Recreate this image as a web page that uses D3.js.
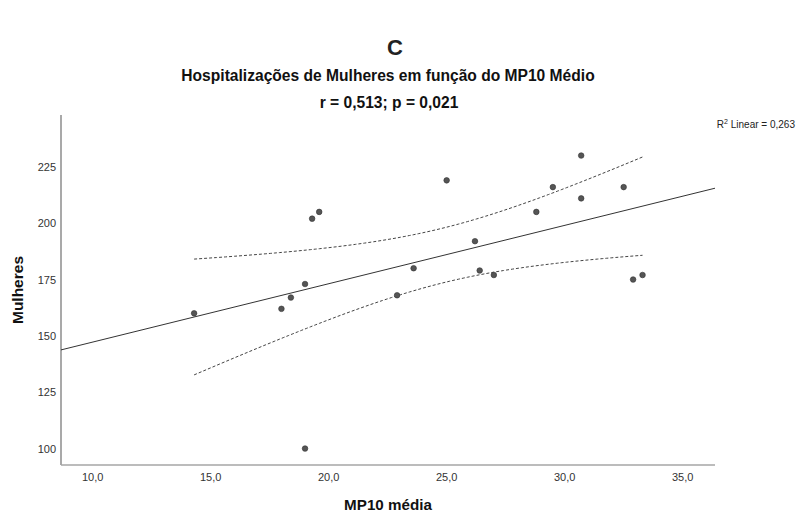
<!DOCTYPE html>
<html>
<head>
<meta charset="utf-8">
<script src="https://cdn.jsdelivr.net/npm/d3@7"></script>
<style>
  html, body { margin: 0; padding: 0; background: #fff; }
  svg { display: block; }
  text { font-family: "Liberation Sans", Arial, sans-serif; }
</style>
</head>
<body>
<script>
// ---- Data ----
const mp10 = [14.3, 18.0, 18.4, 19.0, 19.3, 19.6, 22.9, 25.0, 30.7, 29.5, 32.5, 30.7, 28.8, 26.2, 23.6, 26.4, 27.0, 32.9, 33.3, 19.0];
const mulheres = [160, 162, 167, 173, 202, 205, 168, 219, 230, 216, 216, 211, 205, 192, 180, 179, 177, 175, 177, 100];
const xTicks = [10, 15, 20, 25, 30, 35];
const yTicks = [100, 125, 150, 175, 200, 225];
const panelLabel = "C";
const title = "Hospitalizações de Mulheres em função do MP10 Médio";
const subtitle = "r = 0,513; p = 0,021";
const xTitle = "MP10 média";
const yTitle = "Mulheres";
const r2Label = "0,263";
const tCrit = 2.101; // t(0.975, 18)

const W = 796, H = 514;
const mLeft = 61, mRight = 715, mTop = 115, mBottom = 465;

const svg = d3.select("body").append("svg").attr("width", W).attr("height", H);

const x = d3.scaleLinear().domain([8.66, 36.37]).range([mLeft, mRight]);
const y = d3.scaleLinear().domain([92.7, 248]).range([mBottom, mTop]);

const fmt = v => d3.format(".1f")(v).replace(".", ",");

// Regression
const n = mp10.length;
const mx = d3.mean(mp10), my = d3.mean(mulheres);
let sxx = 0, sxy = 0;
for (let i = 0; i < n; i++) { sxx += (mp10[i]-mx)**2; sxy += (mp10[i]-mx)*(mulheres[i]-my); }
const b = sxy / sxx, a = my - b * mx;
let sse = 0;
for (let i = 0; i < n; i++) sse += (mulheres[i] - (a + b*mp10[i]))**2;
const s = Math.sqrt(sse / (n - 2));

// Axes lines
svg.append("line").attr("x1", mLeft).attr("x2", mLeft).attr("y1", mTop).attr("y2", mBottom)
  .attr("stroke", "#8c8c8c").attr("stroke-width", 1.5);
svg.append("line").attr("x1", mLeft).attr("x2", mRight).attr("y1", mBottom).attr("y2", mBottom)
  .attr("stroke", "#a6a6a6").attr("stroke-width", 1.5);

// Tick labels
svg.append("g").selectAll("text").data(xTicks).join("text")
  .attr("x", d => x(d)).attr("y", 481).attr("text-anchor", "middle")
  .attr("font-size", 11).attr("fill", "#333").text(fmt);
svg.append("g").selectAll("text").data(yTicks).join("text")
  .attr("x", 56).attr("y", d => y(d) + 4).attr("text-anchor", "end")
  .attr("font-size", 11).attr("fill", "#333").text(d => d);

// Fit line across the whole x range
const xd = x.domain();
svg.append("line")
  .attr("x1", x(xd[0])).attr("y1", y(a + b*xd[0]))
  .attr("x2", x(xd[1])).attr("y2", y(a + b*xd[1]))
  .attr("stroke", "#333").attr("stroke-width", 1);

// Confidence band for the mean
const xmin = d3.min(mp10), xmax = d3.max(mp10);
const band = d3.range(0, 101).map(i => {
  const xv = xmin + (xmax - xmin) * i / 100;
  const se = s * Math.sqrt(1/n + (xv - mx)**2 / sxx);
  const yh = a + b*xv;
  return { x: xv, lo: yh - tCrit*se, hi: yh + tCrit*se };
});
const lineHi = d3.line().x(d => x(d.x)).y(d => y(d.hi));
const lineLo = d3.line().x(d => x(d.x)).y(d => y(d.lo));
[lineHi, lineLo].forEach(l => {
  svg.append("path").datum(band).attr("d", l).attr("fill", "none")
    .attr("stroke", "#444").attr("stroke-width", 1).attr("stroke-dasharray", "3,2");
});

// Points
svg.append("g").selectAll("circle").data(mp10.map((v, i) => [v, mulheres[i]])).join("circle")
  .attr("cx", d => x(d[0])).attr("cy", d => y(d[1])).attr("r", 2.8)
  .attr("fill", "#555").attr("stroke", "#333").attr("stroke-width", 0.6);

// Titles
svg.append("text").attr("x", 395).attr("y", 55).attr("text-anchor", "middle")
  .attr("font-family", "Roboto").attr("font-weight", "bold").attr("font-size", 22)
  .attr("fill", "#222").text(panelLabel);
svg.append("text").attr("x", 388).attr("y", 81).attr("text-anchor", "middle")
  .attr("font-weight", "bold").attr("font-size", 15.6).attr("fill", "#111").text(title);
svg.append("text").attr("x", 389).attr("y", 108).attr("text-anchor", "middle")
  .attr("font-weight", "bold").attr("font-size", 15.6).attr("fill", "#111").text(subtitle);

// R2 label
const r2 = svg.append("text").attr("x", 795).attr("y", 128).attr("text-anchor", "end")
  .attr("font-size", 10).attr("fill", "#222");
r2.append("tspan").text("R");
r2.append("tspan").attr("dy", -4).attr("font-size", 7).text("2");
r2.append("tspan").attr("dy", 4).text(" Linear = " + r2Label);

// Axis titles
svg.append("text").attr("x", 388).attr("y", 510).attr("text-anchor", "middle")
  .attr("font-weight", "bold").attr("font-size", 15.2).attr("fill", "#111").text(xTitle);
svg.append("text").attr("transform", "translate(23,290) rotate(-90)").attr("text-anchor", "middle")
  .attr("font-weight", "bold").attr("font-size", 15.5).attr("fill", "#111").text(yTitle);
</script>
</body>
</html>
